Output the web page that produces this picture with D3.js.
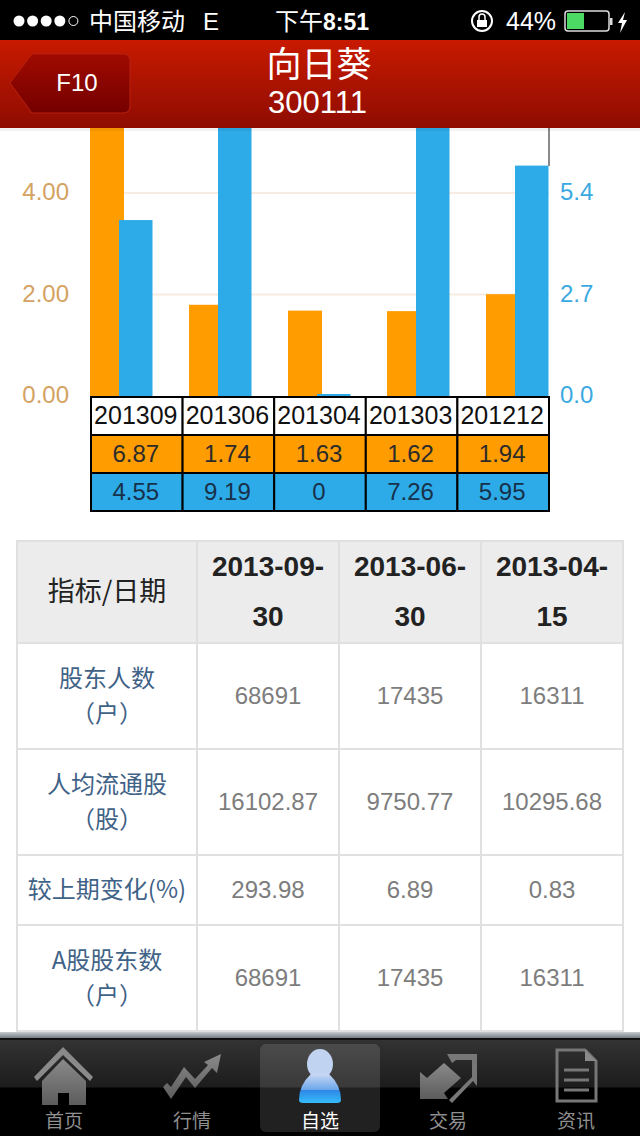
<!DOCTYPE html>
<html>
<head>
  <meta charset="utf-8">
  <title>向日葵 300111</title>
  <style>
    html, body { margin: 0; padding: 0; background: #fff; overflow: hidden; }
    svg { display: block; }
    text { font-family: "Liberation Sans", "Noto Sans CJK SC", sans-serif; }
    .cjk { font-family: "Noto Sans CJK SC", sans-serif; }
  </style>
</head>
<body>
  <div id="chart"></div>
  <script src="https://d3js.org/d3.v7.min.js"></script>
  <script>
    const periods = ["201309", "201306", "201304", "201303", "201212"];
    const orangeValues = [6.87, 1.74, 1.63, 1.62, 1.94];
    const blueValues = [4.55, 9.19, 0, 7.26, 5.95];
    const leftTicks = [0, 2, 4];
    const rightTickLabels = ["0.0", "2.7", "5.4"];

    const tableHead = ["指标/日期", "2013-09-|30", "2013-06-|30", "2013-04-|15"];
    const rowLabels = ["股东人数|（户）", "人均流通股|（股）", "较上期变化(%)", "A股股东数|（户）"];
    const col20130930 = ["68691", "16102.87", "293.98", "68691"];
    const col20130630 = ["17435", "9750.77", "6.89", "17435"];
    const col20130415 = ["16311", "10295.68", "0.83", "16311"];
    const tabs = ["首页", "行情", "自选", "交易", "资讯"];

    const width = 640, height = 1136;
    const orange = "#ff9c00", blue = "#2dabe8";

    const svg = d3.select("#chart").append("svg")
      .attr("width", width).attr("height", height);
    const defs = svg.append("defs");

    function vGrad(id, stops) {
      const g = defs.append("linearGradient").attr("id", id)
        .attr("x1", 0).attr("x2", 0).attr("y1", 0).attr("y2", 1);
      stops.forEach(s => g.append("stop").attr("offset", s[0]).attr("stop-color", s[1]));
    }
    vGrad("headGrad", [[0, "#c81a00"], [1, "#8e0c02"]]);
    vGrad("backGrad", [[0, "#a00a00"], [1, "#740000"]]);
    vGrad("tabGrad", [[0, "#333"], [0.49, "#1c1c1c"], [0.5, "#000"], [1, "#000"]]);
    vGrad("edgeGrad", [[0, "#c8ccd0"], [1, "#767c84"]]);
    vGrad("iconGrad", [[0, "#8a8a8a"], [1, "#5c5c5c"]]);
    vGrad("personGrad", [[0, "#c8d8f4"], [0.55, "#6aa6ea"], [0.56, "#2f86e6"], [1, "#35bdfb"]]);

    // ---- bars
    const x = d3.scaleBand().domain(periods).range([90, 585]);
    // bars sit a little taller than the printed axis in the source app, so each has its own scale
    const yOrange = d3.scaleLinear().domain([0, 4]).range([397, 185]);
    const yBlue = d3.scaleLinear().domain([0, 5.4]).range([397, 187]);
    const yAxis = d3.scaleLinear().domain([0, 4]).range([396, 193]);

    const chart = svg.append("g");

    chart.selectAll(".grid").data(leftTicks.slice(1)).join("line")
      .attr("x1", 90).attr("x2", 549)
      .attr("y1", d => yAxis(d)).attr("y2", d => yAxis(d))
      .attr("stroke", "#f7ece2").attr("stroke-width", 2);

    chart.append("line").attr("x1", 549).attr("x2", 549).attr("y1", 128).attr("y2", 166)
      .attr("stroke", "#8a8a8a").attr("stroke-width", 2);

    chart.selectAll(".orange").data(orangeValues).join("rect")
      .attr("x", (d, i) => x(periods[i]))
      .attr("y", d => yOrange(d))
      .attr("width", 34)
      .attr("height", d => yOrange(0) - yOrange(d))
      .attr("fill", orange);

    chart.selectAll(".blue").data(blueValues).join("rect")
      .attr("x", (d, i) => x(periods[i]) + 29)
      .attr("y", d => d === 0 ? yBlue(0) - 3 : yBlue(d))
      .attr("width", 33.5)
      .attr("height", d => d === 0 ? 3 : yBlue(0) - yBlue(d))
      .attr("fill", blue);

    const leftAxis = d3.axisLeft(yAxis).tickValues(leftTicks).tickFormat(d3.format(".2f")).tickSize(0).tickPadding(0);
    const lg = chart.append("g").attr("transform", "translate(69,-1)").call(leftAxis);
    lg.select(".domain").remove();
    lg.selectAll("text").attr("font-size", 24).attr("fill", "#d4a262")
      .style("font-family", "Liberation Sans");

    const rightAxis = d3.axisRight(yAxis).tickValues(leftTicks)
      .tickFormat((d, i) => rightTickLabels[i]).tickSize(0).tickPadding(0);
    const rg = chart.append("g").attr("transform", "translate(560,-1)").call(rightAxis);
    rg.select(".domain").remove();
    rg.selectAll("text").attr("font-size", 24).attr("fill", "#3aa9e2")
      .style("font-family", "Liberation Sans");

    // ---- small data table under the bars
    const smallCol = d3.scaleBand().domain(d3.range(5)).range([91, 549]);
    const smallRow = d3.scaleBand().domain(d3.range(3)).range([397, 511]);
    const smallRows = [
      { fill: "#fff", color: "#111", size: 25, cells: periods },
      { fill: orange, color: "#2b2b2b", size: 24, cells: orangeValues },
      { fill: blue, color: "#17314a", size: 24, cells: blueValues }
    ];
    const small = svg.append("g");
    smallRows.forEach((row, r) => {
      row.cells.forEach((c, i) => {
        small.append("rect")
          .attr("x", smallCol(i)).attr("y", smallRow(r))
          .attr("width", smallCol.bandwidth()).attr("height", smallRow.bandwidth())
          .attr("fill", row.fill).attr("stroke", "#000").attr("stroke-width", 2);
        small.append("text")
          .attr("x", smallCol(i) + smallCol.bandwidth() / 2 - 1)
          .attr("y", smallRow(r) + smallRow.bandwidth() / 2 + 8)
          .attr("text-anchor", "middle").attr("font-size", row.size)
          .attr("fill", row.color).text(c);
      });
    });

    // ---- big table
    const colEdges = [17, 197, 339, 481, 623];
    const rowEdges = [541, 643, 749, 855, 925, 1031];
    const bigRows = [tableHead].concat(rowLabels.map((l, i) =>
      [l, col20130930[i], col20130630[i], col20130415[i]]));
    const big = svg.append("g");
    bigRows.forEach((row, r) => {
      row.forEach((cell, c) => {
        const cx = (colEdges[c] + colEdges[c + 1]) / 2;
        const cy = (rowEdges[r] + rowEdges[r + 1]) / 2;
        big.append("rect")
          .attr("x", colEdges[c]).attr("y", rowEdges[r])
          .attr("width", colEdges[c + 1] - colEdges[c])
          .attr("height", rowEdges[r + 1] - rowEdges[r])
          .attr("fill", r === 0 ? "#ececec" : "#fff")
          .attr("stroke", "#e0e0e0").attr("stroke-width", 2);
        const lines = cell.split("|");
        const gap = r === 0 ? 50 : 35;
        lines.forEach((t, k) => {
          const isHead = r === 0;
          big.append("text")
            .attr("class", c === 0 ? "cjk" : null)
            .attr("x", cx)
            .attr("y", cy + (k - (lines.length - 1) / 2) * gap + (isHead ? 9 : 8))
            .attr("text-anchor", "middle")
            .attr("font-size", isHead ? (c === 0 ? 27 : 28) : 24)
            .attr("font-weight", isHead && c > 0 ? "bold" : "normal")
            .attr("fill", isHead ? "#222" : (c === 0 ? "#3f6287" : "#7d7d7d"))
            .text(t);
        });
      });
    });

    // ---- status bar and red header
    svg.append("rect").attr("width", width).attr("height", 40).attr("fill", "#000");
    svg.append("rect").attr("y", 128).attr("width", width).attr("height", 3).attr("fill", "#000").attr("opacity", 0.05);
    svg.append("rect").attr("y", 40).attr("width", width).attr("height", 88).attr("fill", "url(#headGrad)");

    svg.selectAll(".sig").data(d3.range(5)).join("circle")
      .attr("cx", d => 19 + d * 13.6).attr("cy", 21).attr("r", d => d === 4 ? 4.5 : 5.5)
      .attr("fill", d => d === 4 ? "none" : "#fff")
      .attr("stroke", "#fff").attr("stroke-width", d => d === 4 ? 1 : 0);

    function statusText(tx, t, anchor, weight, cls, size) {
      svg.append("text").attr("class", cls || null).attr("x", tx).attr("y", 30).attr("text-anchor", anchor)
        .attr("font-size", size || 24).attr("font-weight", weight || "normal").attr("fill", "#fff").text(t);
    }
    statusText(89, "中国移动", "start", null, "cjk");
    statusText(203, "E", "start");
    statusText(275, "下午", "start", null, "cjk");
    statusText(323, "8:51", "start", "bold", null, 23);
    statusText(506, "44%", "start", null, null, 25);

    svg.append("circle").attr("cx", 482).attr("cy", 21).attr("r", 10).attr("fill", "none").attr("stroke", "#fff").attr("stroke-width", 2);
    svg.append("rect").attr("x", 477).attr("y", 20).attr("width", 10).attr("height", 7).attr("fill", "#fff");
    svg.append("path").attr("d", "M479,20v-3a3,3 0 0 1 6,0v3").attr("fill", "none").attr("stroke", "#fff").attr("stroke-width", 1.5);
    svg.append("rect").attr("x", 565).attr("y", 11).attr("width", 44).attr("height", 20).attr("rx", 3).attr("fill", "none").attr("stroke", "#ddd").attr("stroke-width", 1.5);
    svg.append("rect").attr("x", 567).attr("y", 13).attr("width", 17).attr("height", 16).attr("fill", "#4cd964");
    svg.append("rect").attr("x", 610).attr("y", 18).attr("width", 2.5).attr("height", 7).attr("fill", "#ddd");
    svg.append("path").attr("d", "M625,12 L618,23 L622,23 L620,33 L627,20 L623,20 Z").attr("fill", "#fff");

    svg.append("path")
      .attr("d", "M10,83 L32,54 H123 Q130,54 130,61 V106 Q130,113 123,113 H32 Z")
      .attr("fill", "url(#backGrad)").attr("stroke", "#b8200f").attr("stroke-width", 1);
    svg.append("text").attr("x", 77).attr("y", 91).attr("text-anchor", "middle")
      .attr("font-size", 24).attr("fill", "#fff").text("F10");
    svg.append("text").attr("class", "cjk").attr("x", 319).attr("y", 77).attr("text-anchor", "middle")
      .attr("font-size", 35).attr("fill", "#fff").text("向日葵");
    svg.append("text").attr("x", 317.5).attr("y", 113).attr("text-anchor", "middle")
      .attr("font-size", 31).attr("fill", "#fff").text("300111");

    // ---- tab bar
    svg.append("rect").attr("y", 1032).attr("width", width).attr("height", 6).attr("fill", "url(#edgeGrad)");
    svg.append("rect").attr("y", 1038).attr("width", width).attr("height", 2).attr("fill", "#111");
    svg.append("rect").attr("y", 1040).attr("width", width).attr("height", 96).attr("fill", "url(#tabGrad)");
    svg.append("rect").attr("x", 260).attr("y", 1044).attr("width", 120).attr("height", 88).attr("rx", 6)
      .attr("fill", "#fff").attr("opacity", 0.13);

    const tabX = d3.scalePoint().domain(tabs).range([64, 576]);
    svg.selectAll(".tab").data(tabs).join("text")
      .attr("class", "cjk")
      .attr("x", d => tabX(d)).attr("y", 1128)
      .attr("text-anchor", "middle").attr("font-size", 19)
      .attr("fill", d => d === "自选" ? "#fff" : "#8f8f8f").text(d => d);

    const icon = "url(#iconGrad)";
    // home
    svg.append("path").attr("d", "M63,1047 L93,1077 L90,1081 L63,1055 L37,1081 L34,1077 Z").attr("fill", "#8a8a8a");
    svg.append("path").attr("d", "M63,1059 L86,1081 V1105 H69 V1093 H58 V1105 H42 V1081 Z").attr("fill", icon);
    // trend arrow
    svg.append("path").attr("d", "M163,1087 L171,1099 L186,1077 L195,1088 L212,1068 L217,1073 L221,1054 L204,1062 L208,1065 L195,1079 L184,1067 L171,1087 L167,1083 Z").attr("fill", icon);
    // person
    svg.append("ellipse").attr("cx", 320).attr("cy", 1064).attr("rx", 13).attr("ry", 15).attr("fill", "#c0d4f2");
    svg.append("path").attr("d", "M299,1100 Q299,1085 311,1074 H329 Q341,1085 341,1100 Q341,1103 337,1103 H303 Q299,1103 299,1100 Z").attr("fill", "url(#personGrad)");
    // trade arrows
    svg.append("path").attr("d", "M420,1099 V1072 L427,1078 L444,1063 L461,1078 L444,1093 L448,1099 Z").attr("fill", icon);
    svg.append("path").attr("d", "M447,1054 H477 V1086 L473,1081 L452,1103 L449,1100 L472,1077 V1060 H456 L452,1063 Z").attr("fill", "#777");
    // document
    svg.append("path").attr("d", "M557,1050 H585 L596,1061 V1101 H557 Z").attr("fill", "none").attr("stroke", "#777").attr("stroke-width", 3);
    svg.append("path").attr("d", "M585,1050 V1061 H596 Z").attr("fill", "#8a8a8a");
    svg.selectAll(".docline").data([1070, 1080, 1090]).join("line")
      .attr("x1", 564).attr("x2", 589).attr("y1", d => d).attr("y2", d => d)
      .attr("stroke", "#777").attr("stroke-width", 3);
  </script>
</body>
</html>
